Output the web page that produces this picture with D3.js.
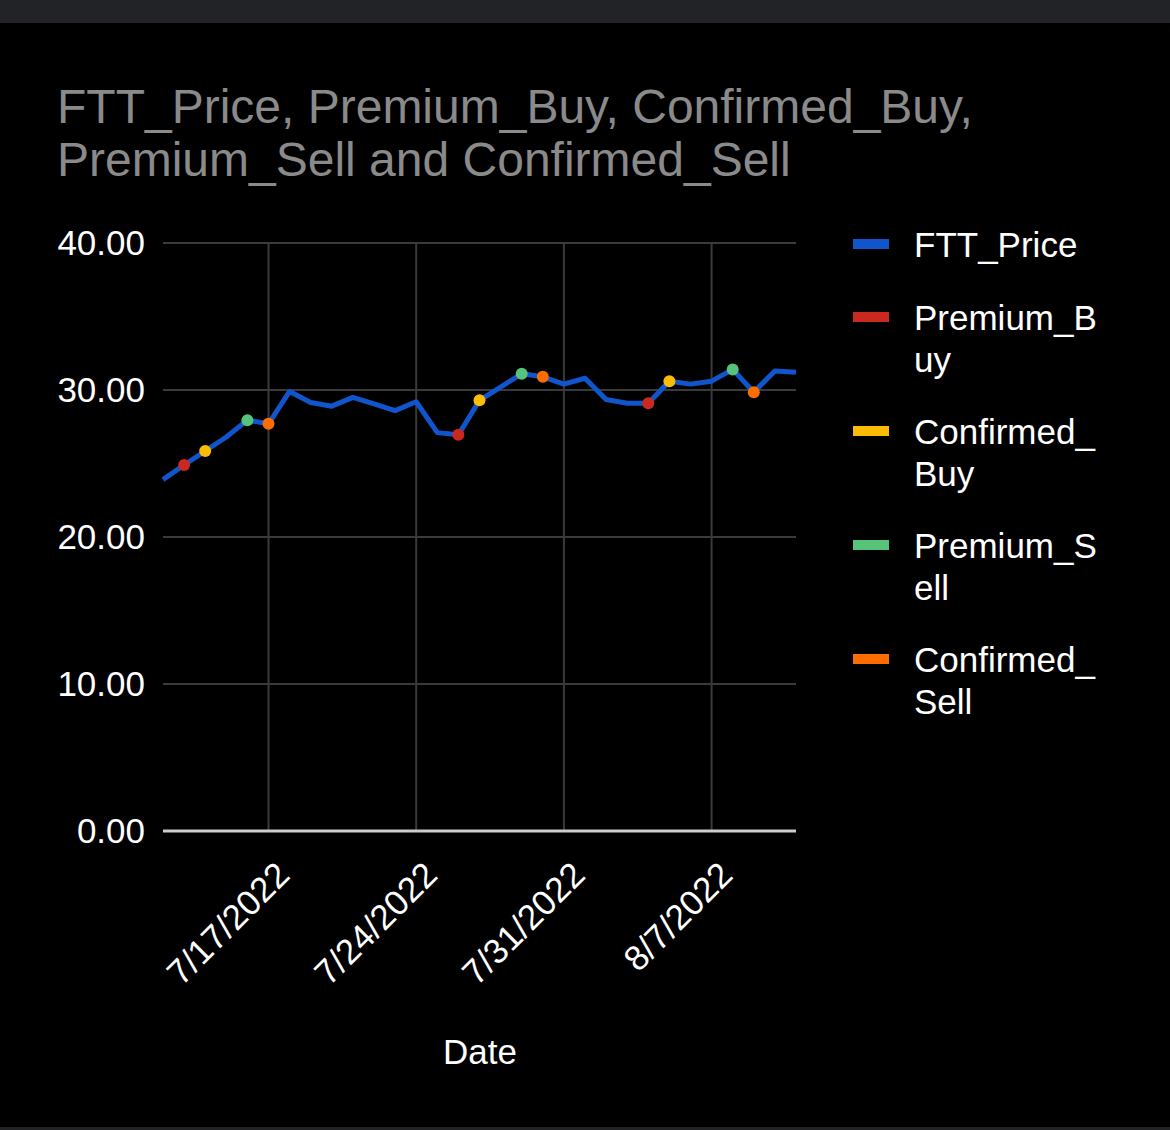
<!DOCTYPE html>
<html>
<head>
<meta charset="utf-8">
<script src="https://cdnjs.cloudflare.com/ajax/libs/d3/7.8.5/d3.min.js"></script>
<style>
  body { margin: 0; background: #000; }
  svg { display: block; font-family: "Liberation Sans", Arial, sans-serif; }
</style>
</head>
<body>
<div id="chart"></div>
<script>
// data
var dates = ["7/12/2022","7/13/2022","7/14/2022","7/15/2022","7/16/2022","7/17/2022","7/18/2022",
  "7/19/2022","7/20/2022","7/21/2022","7/22/2022","7/23/2022","7/24/2022","7/25/2022","7/26/2022",
  "7/27/2022","7/28/2022","7/29/2022","7/30/2022","7/31/2022","8/1/2022","8/2/2022","8/3/2022",
  "8/4/2022","8/5/2022","8/6/2022","8/7/2022","8/8/2022","8/9/2022","8/10/2022","8/11/2022"];
var fttPrice = [23.9, 24.9, 25.85, 26.8, 27.95, 27.7, 29.9, 29.15, 28.9, 29.5, 29.05, 28.6, 29.2,
  27.1, 26.95, 29.3, 30.2, 31.1, 30.9, 30.4, 30.8, 29.35, 29.1, 29.1, 30.6, 30.4, 30.6, 31.4,
  29.85, 31.3, 31.2];
var premiumBuy = ["7/13/2022", "7/26/2022", "8/4/2022"];
var confirmedBuy = ["7/14/2022", "7/27/2022", "8/5/2022"];
var premiumSell = ["7/16/2022", "7/29/2022", "8/8/2022"];
var confirmedSell = ["7/17/2022", "7/30/2022", "8/9/2022"];
var xTicks = ["7/17/2022", "7/24/2022", "7/31/2022", "8/7/2022"];
var yTicks = [0, 10, 20, 30, 40];
var seriesNames = ["FTT_Price", "Premium_Buy", "Confirmed_Buy", "Premium_Sell", "Confirmed_Sell"];
var seriesColors = ["#1155cc", "#c9291f", "#fbbc04", "#57c27a", "#ff6d01"];

var W = 1170, H = 1130;
// plot area edges (note: "top" is reserved on window, so use m*)
var mLeft = 163, mRight = 796, mTop = 243, mBottom = 831;

var parse = d3.timeParse("%m/%d/%Y");
var fmt = d3.timeFormat("%-m/%-d/%Y");

var svg = d3.select("#chart").append("svg")
  .attr("width", W).attr("height", H);

svg.append("rect").attr("width", W).attr("height", H).attr("fill", "#000");
svg.append("rect").attr("width", W).attr("height", 23).attr("fill", "#222327");
svg.append("rect").attr("y", 1127).attr("width", W).attr("height", 3).attr("fill", "#222327");

// title
var title = svg.append("text").attr("x", 57).attr("fill", "#8a8a8a").style("font-size", "48px");
title.append("tspan").attr("x", 57).attr("y", 123).text("FTT_Price, Premium_Buy, Confirmed_Buy,");
title.append("tspan").attr("x", 57).attr("y", 176).text("Premium_Sell and Confirmed_Sell");

var x = d3.scaleTime()
  .domain([parse(dates[0]), parse(dates[dates.length - 1])])
  .range([mLeft, mRight]);
var y = d3.scaleLinear().domain([0, 40]).range([mBottom, mTop]);

var priceByDate = {};
dates.forEach(function(d, i) { priceByDate[d] = fttPrice[i]; });

// gridlines
svg.append("g").selectAll("line").data(yTicks.filter(function(v) { return v > 0; }))
  .enter().append("line")
  .attr("x1", mLeft).attr("x2", mRight)
  .attr("y1", function(d) { return y(d); }).attr("y2", function(d) { return y(d); })
  .attr("stroke", "#3a3a3a").attr("stroke-width", 2);

svg.append("g").selectAll("line").data(xTicks)
  .enter().append("line")
  .attr("x1", function(d) { return x(parse(d)); }).attr("x2", function(d) { return x(parse(d)); })
  .attr("y1", mTop).attr("y2", mBottom)
  .attr("stroke", "#3a3a3a").attr("stroke-width", 2);

// y axis labels
var yAxis = svg.append("g").attr("transform", "translate(" + mLeft + ",0)")
  .call(d3.axisLeft(y).tickValues(yTicks).tickFormat(d3.format(".2f")).tickSize(0).tickPadding(18));
yAxis.select(".domain").remove();
yAxis.selectAll("text").attr("fill", "#fff").style("font-size", "35px")
  .attr("font-family", "Liberation Sans, Arial, sans-serif");

// baseline
svg.append("line")
  .attr("x1", mLeft).attr("x2", mRight)
  .attr("y1", y(0)).attr("y2", y(0))
  .attr("stroke", "#cccccc").attr("stroke-width", 3);

// x axis labels
svg.append("g").selectAll("text").data(xTicks)
  .enter().append("text")
  .attr("text-anchor", "end")
  .attr("fill", "#fff")
  .style("font-size", "35px")
  .attr("transform", function(d) {
    return "translate(" + (x(parse(d)) + 23) + "," + 877 + ") rotate(-45)";
  })
  .text(function(d) { return fmt(parse(d)); });

svg.append("text").attr("x", 480).attr("y", 1064).attr("text-anchor", "middle")
  .attr("fill", "#fff").style("font-size", "35px").text("Date");

// price line
var line = d3.line()
  .x(function(d, i) { return x(parse(dates[i])); })
  .y(function(d) { return y(d); });

svg.append("path").datum(fttPrice)
  .attr("d", line)
  .attr("fill", "none")
  .attr("stroke", seriesColors[0])
  .attr("stroke-width", 5)
  .attr("stroke-linejoin", "round");

// signal markers
[premiumBuy, confirmedBuy, premiumSell, confirmedSell].forEach(function(s, k) {
  svg.append("g").selectAll("circle").data(s)
    .enter().append("circle")
    .attr("cx", function(d) { return x(parse(d)); })
    .attr("cy", function(d) { return y(priceByDate[d]); })
    .attr("r", 6)
    .attr("fill", seriesColors[k + 1]);
});

// legend, text wraps by character like the original
var legend = svg.append("g");
var ly = 244;
var maxW = 190;
seriesNames.forEach(function(name, i) {
  legend.append("rect")
    .attr("x", 853).attr("y", ly - 5)
    .attr("width", 36).attr("height", 10)
    .attr("fill", seriesColors[i]);
  var t = legend.append("text").attr("fill", "#fff").style("font-size", "35px");
  var lines = [], cur = "";
  var probe = legend.append("text").style("font-size", "35px");
  name.split("").forEach(function(ch) {
    probe.text(cur + ch);
    if (probe.node().getComputedTextLength() > maxW && cur.length) {
      lines.push(cur); cur = ch;
    } else cur += ch;
  });
  lines.push(cur);
  probe.remove();
  lines.forEach(function(l, j) {
    t.append("tspan").attr("x", 914).attr("y", ly + 12.5 + j * 42).text(l);
  });
  ly += 73 + (lines.length - 1) * 41;
});
</script>
</body>
</html>
